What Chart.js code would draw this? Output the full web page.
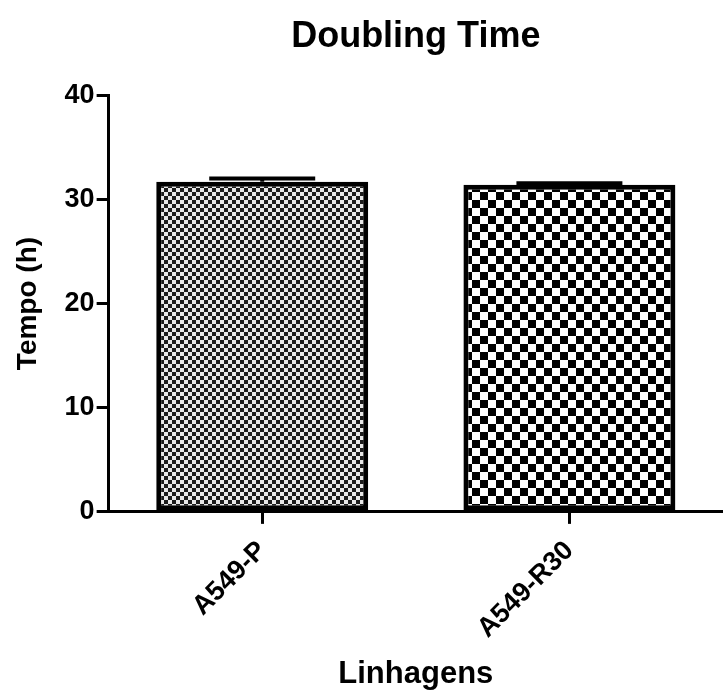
<!DOCTYPE html>
<html>
<head>
<meta charset="utf-8">
<script src="https://cdn.jsdelivr.net/npm/chart.js@4.4.0/dist/chart.umd.min.js"></script>
<style>
  html, body { margin: 0; padding: 0; background: #fff; }
  #wrap { width: 723px; height: 693px; }
</style>
</head>
<body>
<div id="wrap"><canvas id="chart"></canvas></div>
<script>
const categories = ['A549-P', 'A549-R30'];
const doublingTime = [31.7, 31.4];
const errorSD = [0.3, 0.15];
const yTicks = [0, 10, 20, 30, 40];

const FONT = "'Liberation Sans', Arial, Helvetica, sans-serif";

// checkerboard fills, cell size in px
function checker(cell, dark, light) {
  const c = document.createElement('canvas');
  c.width = c.height = cell * 2;
  const g = c.getContext('2d');
  g.fillStyle = light;
  g.fillRect(0, 0, cell * 2, cell * 2);
  g.fillStyle = dark;
  g.fillRect(0, 0, cell, cell);
  g.fillRect(cell, cell, cell, cell);
  return g.createPattern(c, 'repeat');
}
const ctx = document.getElementById('chart').getContext('2d');
const fills = [checker(4, '#1c1c1c', '#e8e8e8'), checker(8, '#000', '#fff')];

// top-only SD bars like GraphPad
const errorBars = {
  id: 'errorBars',
  afterDatasetsDraw(chart) {
    const meta = chart.getDatasetMeta(0);
    const y = chart.scales.y;
    const g = chart.ctx;
    g.save();
    g.strokeStyle = '#000';
    g.lineWidth = 4;
    meta.data.forEach((bar, i) => {
      const top = y.getPixelForValue(doublingTime[i] + errorSD[i]);
      const half = bar.width / 4;
      g.beginPath();
      g.moveTo(bar.x, bar.y);
      g.lineTo(bar.x, top);
      g.moveTo(bar.x - half, top);
      g.lineTo(bar.x + half, top);
      g.stroke();
    });
    g.restore();
  }
};

new Chart(ctx, {
  type: 'bar',
  data: {
    labels: categories,
    datasets: [{
      data: doublingTime,
      backgroundColor: fills,
      borderColor: '#000',
      borderWidth: 5,
      borderSkipped: false,
      barPercentage: 0.69,
      categoryPercentage: 1
    }]
  },
  options: {
    responsive: true,
    maintainAspectRatio: false,
    animation: false,
    layout: { padding: { top: 9, right: 0, left: 6, bottom: 0 } },
    plugins: {
      legend: { display: false },
      tooltip: { enabled: false },
      title: {
        display: true,
        text: 'Doubling Time',
        fullSize: false,
        color: '#000',
        font: { family: FONT, size: 36, weight: 'bold' },
        padding: { top: 6, bottom: 37 }
      }
    },
    scales: {
      x: {
        border: { color: '#000', width: 3 },
        grid: { display: true, offset: false, drawOnChartArea: false, color: '#000', lineWidth: 3, tickLength: 12 },
        ticks: {
          color: '#000', maxRotation: 45, minRotation: 45, padding: 11,
          font: { family: FONT, size: 27, weight: 'bold' }
        },
        title: {
          display: true, text: 'Linhagens', color: '#000', padding: { top: 0, bottom: 0 },
          font: { family: FONT, size: 31, weight: 'bold' }
        }
      },
      y: {
        min: 0,
        max: 40,
        afterBuildTicks(scale) { scale.ticks = yTicks.map(v => ({ value: v })); },
        border: { color: '#000', width: 3 },
        grid: { drawOnChartArea: false, color: '#000', lineWidth: 3, tickLength: 12 },
        ticks: {
          color: '#000', padding: 2,
          font: { family: FONT, size: 27, weight: 'bold' }
        },
        title: {
          display: true, text: 'Tempo (h)', color: '#000', padding: { top: 5, bottom: 18 },
          font: { family: FONT, size: 28, weight: 'bold' }
        }
      }
    }
  },
  plugins: [errorBars]
});
</script>
</body>
</html>
